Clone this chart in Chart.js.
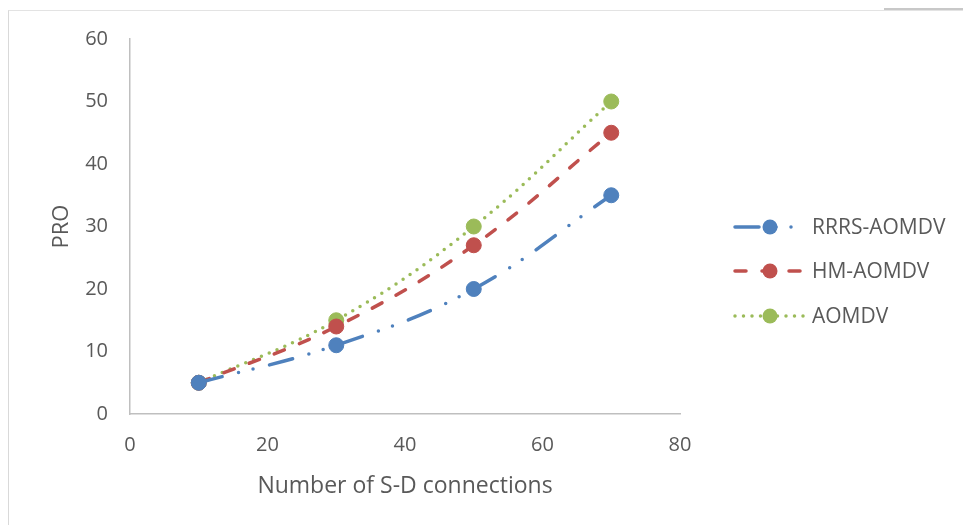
<!DOCTYPE html>
<html>
<head>
<meta charset="utf-8">
<script src="https://cdn.jsdelivr.net/npm/chart.js@4.4.1/dist/chart.umd.min.js"></script>
<style>
  html, body { margin: 0; padding: 0; background: #ffffff; }
  #wrap { position: relative; width: 963px; height: 525px; }
  #frame { position: absolute; left: 8px; top: 10px; width: 960px; height: 520px;
           border-left: 1px solid #d9d9d9; border-top: 1px solid #e3e3e3; pointer-events: none; }
  #frameTab { position: absolute; left: 884px; top: 8px; width: 79px; height: 2px; background: #c8c8c8; }
  canvas { position: absolute; left: 0; top: 0; }
</style>
</head>
<body>
<div id="wrap">
  <canvas id="chart" width="963" height="525"></canvas>
  <div id="frame"></div>
  <div id="frameTab"></div>
</div>
<script>
// Number of source-destination connections
const connections = [10, 30, 50, 70];

// PRO per protocol
const rrrsAomdv = [5, 11, 20, 35];
const hmAomdv = [5, 14, 27, 45];
const aomdv = [5, 15, 30, 50];

const seriesNames = ['RRRS-AOMDV', 'HM-AOMDV', 'AOMDV'];
const xTitle = 'Number of S-D connections';
const yTitle = 'PRO';

const FONT = "'Open Sans', 'Liberation Sans', sans-serif";
const TEXT = '#595959';

function pairs(ys) {
  return connections.map((x, i) => ({ x: x, y: ys[i] }));
}

const styles = [
  { color: '#4f81bd', dash: [24, 17, 0, 15, 0, 17] },
  { color: '#c0504d', dash: [11, 16] },
  { color: '#9bbb59', dash: [0, 8.5] }
];

const datasets = [rrrsAomdv, hmAomdv, aomdv].map((vals, i) => ({
  label: seriesNames[i],
  data: pairs(vals),
  borderColor: styles[i].color,
  backgroundColor: styles[i].color,
  borderWidth: 3.5,
  borderDash: styles[i].dash,
  borderCapStyle: 'round',
  tension: 0.4,
  pointRadius: 7.5,
  pointHoverRadius: 7.5,
  pointBorderWidth: 1,
  pointBorderColor: styles[i].color,
  pointBackgroundColor: styles[i].color,
  fill: false
}));

// Legend drawn at the right: line sample with marker, then the series name
const sideLegend = {
  id: 'sideLegend',
  afterDraw(chart) {
    const ctx = chart.ctx;
    const x0 = 735, x1 = 805, rowY = [227, 271, 316];
    chart.data.datasets.forEach((ds, i) => {
      const y = rowY[i];
      ctx.save();
      ctx.strokeStyle = ds.borderColor;
      ctx.lineWidth = ds.borderWidth;
      ctx.lineCap = 'round';
      ctx.setLineDash(ds.borderDash);
      ctx.beginPath();
      ctx.moveTo(x0, y);
      ctx.lineTo(x1, y);
      ctx.stroke();
      ctx.setLineDash([]);
      ctx.fillStyle = ds.pointBackgroundColor;
      ctx.beginPath();
      ctx.arc((x0 + x1) / 2, y, ds.pointRadius, 0, Math.PI * 2);
      ctx.fill();
      ctx.fillStyle = TEXT;
      ctx.font = '21px ' + FONT;
      ctx.textAlign = 'left';
      ctx.textBaseline = 'middle';
      ctx.fillText(ds.label, 812, y + 1);
      ctx.restore();
    });
  }
};

new Chart(document.getElementById('chart'), {
  type: 'line',
  data: { datasets: datasets },
  options: {
    responsive: false,
    animation: false,
    devicePixelRatio: 1,
    layout: { padding: { left: 0, top: 39, right: 283, bottom: 0 } },
    plugins: {
      legend: { display: false },
      tooltip: { enabled: false }
    },
    scales: {
      x: {
        type: 'linear',
        min: 0, max: 80,
        afterFit(scale) { scale.height = 111; },
        grid: { display: false, drawTicks: false },
        border: { display: true, color: '#bfbfbf', width: 1.5 },
        ticks: { stepSize: 20, padding: 19, color: TEXT, font: { family: FONT, size: 20 } },
        title: { display: true, text: xTitle, color: TEXT,
                 font: { family: FONT, size: 23 }, padding: { top: 0, bottom: 25 } }
      },
      y: {
        type: 'linear',
        min: 0, max: 60,
        afterFit(scale) { scale.width = 130; },
        grid: { display: false, drawTicks: false },
        border: { display: true, color: '#bfbfbf', width: 1.5 },
        ticks: { stepSize: 10, padding: 22, color: TEXT, font: { family: FONT, size: 20 } },
        title: { display: true, text: yTitle, color: TEXT,
                 font: { family: FONT, size: 22 }, padding: { top: 49, bottom: 0 } }
      }
    }
  },
  plugins: [sideLegend]
});
</script>
</body>
</html>
